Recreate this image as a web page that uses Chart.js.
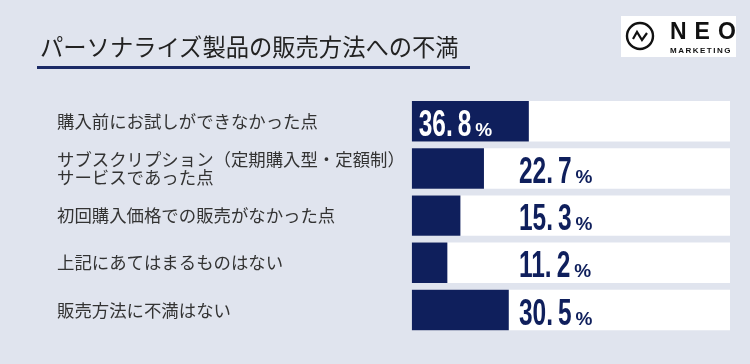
<!DOCTYPE html>
<html lang="ja">
<head>
<meta charset="utf-8">
<script src="https://cdn.jsdelivr.net/npm/chart.js@4/dist/chart.umd.min.js"></script>
<style>
  html, body { margin: 0; padding: 0; background: #e0e4ee; }
  #wrap { position: relative; width: 750px; height: 364px; overflow: hidden; background: #e0e4ee; }
  #chart { position: absolute; left: 0; top: 0; }
  #title { position: absolute; left: 40px; top: 29px; font-family: "Noto Sans CJK JP", sans-serif; font-size: 23.3px; color: #222; white-space: nowrap; }
  #rule { position: absolute; left: 37px; top: 66px; width: 433px; height: 3px; background: #1b2a66; }
  #logo { position: absolute; left: 621px; top: 16px; width: 115px; height: 41px; background: #fff; }
  #logo svg { position: absolute; left: 4px; top: 5px; }
  #neo { position: absolute; left: 49px; top: 3px; font-family: "Liberation Sans", Arial, sans-serif; font-weight: bold; font-size: 23px; letter-spacing: 8px; color: #111; line-height: 25px; }
  #mk { position: absolute; left: 49px; top: 30px; font-family: "Liberation Sans", Arial, sans-serif; font-weight: bold; font-size: 8px; letter-spacing: 1.5px; color: #111; line-height: 9px; }
</style>
</head>
<body>
<div id="wrap">
  <canvas id="chart" width="750" height="364"></canvas>
  <div id="title">パーソナライズ製品の販売方法への不満</div>
  <div id="rule"></div>
  <div id="logo">
    <svg width="32" height="32" viewBox="0 0 32 32">
      <circle cx="15" cy="15" r="13" fill="none" stroke="#111" stroke-width="2.4"/>
      <polyline points="8,18 12,11 17,19 22,12" fill="none" stroke="#111" stroke-width="2.2" stroke-linejoin="miter"/>
    </svg>
    <div id="neo">NEO</div>
    <div id="mk">MARKETING</div>
  </div>
</div>
<script>
// ---- data ----
const categories = [
  "購入前にお試しができなかった点",
  ["サブスクリプション（定期購入型・定額制）", "サービスであった点"],
  "初回購入価格での販売がなかった点",
  "上記にあてはまるものはない",
  "販売方法に不満はない"
];
const values = [36.8, 22.7, 15.3, 11.2, 30.5];
const scaleMax = 100;
const trackValues = categories.map(() => scaleMax);
const labelAnchorValue = 33.7;

// ---- styles ----
const navy = "#0f1f5c";
const numFont = 'bold 36px "Liberation Sans", Arial, sans-serif';
const numSquash = 0.68;
const pctFont = 'bold 19px "Liberation Sans", "DejaVu Sans", sans-serif';

const valueLabels = {
  id: "valueLabels",
  afterDatasetsDraw(chart) {
    const ctx = chart.ctx;
    const xs = chart.scales.x;
    const meta = chart.getDatasetMeta(0);
    const anchorX = xs.getPixelForValue(labelAnchorValue);
    meta.data.forEach((bar, i) => {
      const parts = values[i].toFixed(1).split(".");
      const inside = bar.x > anchorX;
      let x = inside ? bar.base + 7 : anchorX;
      const y = bar.y + 14.5;
      ctx.save();
      ctx.textAlign = "left";
      ctx.textBaseline = "alphabetic";
      ctx.fillStyle = inside ? "#ffffff" : navy;
      ctx.font = numFont;
      const a = parts[0] + ".";
      const wa = ctx.measureText(a).width * numSquash;
      const wb = ctx.measureText(parts[1]).width * numSquash;
      ctx.save();
      ctx.translate(x, y);
      ctx.scale(numSquash, 1);
      ctx.fillText(a, 0, 0);
      ctx.restore();
      x += wa + 5;
      ctx.save();
      ctx.translate(x, y);
      ctx.scale(numSquash, 1);
      ctx.fillText(parts[1], 0, 0);
      ctx.restore();
      x += wb + 4;
      ctx.font = pctFont;
      ctx.fillText("%", x, y);
      ctx.restore();
    });
  }
};

new Chart(document.getElementById("chart"), {
  type: "bar",
  data: {
    labels: categories,
    datasets: [
      {
        data: values,
        backgroundColor: navy,
        borderWidth: 0,
        order: 0,
        grouped: false,
        categoryPercentage: 1,
        barPercentage: 0.857
      },
      {
        data: trackValues,
        backgroundColor: "#ffffff",
        borderWidth: 0,
        order: 1,
        grouped: false,
        categoryPercentage: 1,
        barPercentage: 0.857
      }
    ]
  },
  options: {
    indexAxis: "y",
    responsive: false,
    devicePixelRatio: 1,
    animation: false,
    layout: { padding: { left: 57, right: 20, top: 97.7, bottom: 30.4 } },
    plugins: { legend: { display: false }, tooltip: { enabled: false }, title: { display: false } },
    scales: {
      x: { display: false, min: 0, max: scaleMax },
      y: {
        grid: { display: false },
        border: { display: false },
        ticks: {
          autoSkip: false,
          crossAlign: "far",
          color: "#333333",
          padding: 0,
          font: { family: '"Noto Sans CJK JP", sans-serif', size: 17.4, lineHeight: 1.08 }
        },
        afterFit(scale) { scale.width = 354.7; }
      }
    }
  },
  plugins: [valueLabels]
});
</script>
</body>
</html>
